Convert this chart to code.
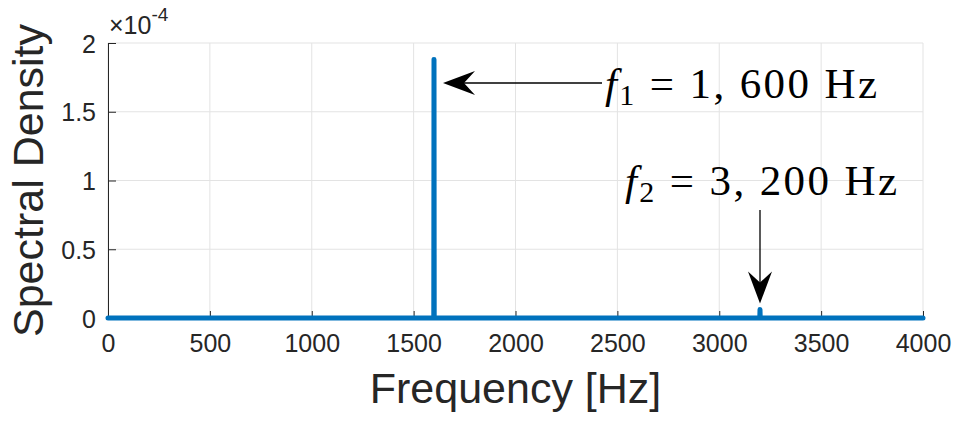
<!DOCTYPE html>
<html>
<head>
<meta charset="utf-8">
<script src="https://cdn.jsdelivr.net/npm/d3@7"></script>
<style>
  body { margin: 0; background: #fff; }
  svg { display: block; }
</style>
</head>
<body>
<svg></svg>
<script>
// spectrum samples (Hz) and spectral density
const frequency = [0, 1599, 1600, 1601, 3199, 3200, 3201, 4000];
const density = [0, 0, 1.88e-4, 0, 0, 0.062e-4, 0, 0];

const xTicks = [0, 500, 1000, 1500, 2000, 2500, 3000, 3500, 4000];
const yTicks = [0, 0.5e-4, 1e-4, 1.5e-4, 2e-4];
const yTickLabels = ["0", "0.5", "1", "1.5", "2"];

// annotations: [frequency, density] the arrow points at
const peak1 = [1600, 1.5e-4];
const peak2 = [3200, 0.062e-4];

const svgWidth = 955;
const svgHeight = 422;
const margin = { left: 108, right: 32, top: 43, bottom: 104 };

const svg = d3
  .select("svg")
  .attr("width", svgWidth)
  .attr("height", svgHeight);

const xScale = d3
  .scaleLinear()
  .domain([0, 4000])
  .range([margin.left, svgWidth - margin.right]);

const yScale = d3
  .scaleLinear()
  .domain([0, 2e-4])
  .range([svgHeight - margin.bottom, margin.top]);

const axisColor = "#262626";
const gridColor = "#e3e3e3";
const font = "'Liberation Sans', Arial, Helvetica, sans-serif";
const serif = "'Liberation Serif', 'Times New Roman', serif";

// grid
svg
  .append("g")
  .selectAll("line")
  .data(xTicks)
  .enter()
  .append("line")
  .attr("x1", d => xScale(d))
  .attr("x2", d => xScale(d))
  .attr("y1", yScale(0))
  .attr("y2", yScale(2e-4))
  .attr("stroke", gridColor);

svg
  .append("g")
  .selectAll("line")
  .data(yTicks)
  .enter()
  .append("line")
  .attr("x1", xScale(0))
  .attr("x2", xScale(4000))
  .attr("y1", d => yScale(d))
  .attr("y2", d => yScale(d))
  .attr("stroke", gridColor);

// axes
const x_axis = d3
  .axisBottom(xScale)
  .tickValues(xTicks)
  .tickSizeInner(-7)
  .tickSizeOuter(0)
  .tickPadding(16)
  .tickFormat(d3.format("d"));

const y_axis = d3
  .axisLeft(yScale)
  .tickValues(yTicks)
  .tickSizeInner(-8)
  .tickSizeOuter(0)
  .tickPadding(12)
  .tickFormat((d, i) => yTickLabels[i]);

const gx = svg
  .append("g")
  .attr("transform", "translate(0," + yScale(0) + ")")
  .call(x_axis);

const gy = svg
  .append("g")
  .attr("transform", "translate(" + xScale(0) + ",0)")
  .call(y_axis);

[gx, gy].forEach(g => {
  g.select(".domain").attr("stroke", axisColor);
  g.selectAll(".tick line").attr("stroke", axisColor);
  g.selectAll("text")
    .attr("fill", axisColor)
    .style("font-family", font)
    .style("font-size", "25px");
});
gy.selectAll("text").attr("dy", "0.36em");

// exponent
const expo = svg
  .append("text")
  .attr("x", xScale(0) + 1)
  .attr("y", 34)
  .attr("fill", axisColor)
  .style("font-family", font)
  .style("font-size", "25px");
expo.append("tspan").text("\u00d710");
expo.append("tspan").attr("dy", -13).style("font-size", "19px").text("-4");

// axis labels
svg
  .append("text")
  .attr("x", (xScale(0) + xScale(4000)) / 2)
  .attr("y", 403)
  .attr("text-anchor", "middle")
  .attr("fill", axisColor)
  .style("font-family", font)
  .style("font-size", "43px")
  .text("Frequency [Hz]");

svg
  .append("text")
  .attr("transform", "translate(43," + (yScale(1e-4)) + ") rotate(-90)")
  .attr("text-anchor", "middle")
  .attr("fill", axisColor)
  .style("font-family", font)
  .style("font-size", "43px")
  .text("Spectral Density");

// spectrum
const line = d3
  .line()
  .x((d, i) => xScale(frequency[i]))
  .y(d => yScale(d));

svg
  .append("path")
  .datum(density)
  .attr("d", line)
  .attr("fill", "none")
  .attr("stroke", "#0072BD")
  .attr("stroke-width", 5)
  .attr("stroke-linejoin", "round")
  .attr("stroke-linecap", "round");

// annotations
function label(x, y, sub, rest, width) {
  const t = svg
    .append("text")
    .attr("x", x)
    .attr("y", y)
    .attr("fill", "#000")
    .style("font-family", serif)
    .style("font-size", "43px")
    .attr("textLength", width)
    .attr("lengthAdjust", "spacing");
  t.append("tspan").style("font-style", "italic").text("f");
  t.append("tspan").attr("dy", 7).style("font-size", "30px").text(sub);
  t.append("tspan").attr("dy", -7).text(rest);
}

function arrowHead(tipX, tipY, dirX, dirY) {
  // dir points from tail towards tip
  const len = 32, notch = 21, half = 12;
  const px = -dirY, py = dirX;
  const pts = [
    [tipX, tipY],
    [tipX - dirX * len + px * half, tipY - dirY * len + py * half],
    [tipX - dirX * notch, tipY - dirY * notch],
    [tipX - dirX * len - px * half, tipY - dirY * len - py * half]
  ];
  svg.append("path").attr("d", "M" + pts.join("L") + "Z").attr("fill", "#000");
}

// f1 arrow, horizontal, pointing at the first peak
const a1y = 83;
const a1tip = xScale(peak1[0]) + 9;
svg
  .append("line")
  .attr("x1", 602)
  .attr("x2", a1tip + 20)
  .attr("y1", a1y)
  .attr("y2", a1y)
  .attr("stroke", "#000")
  .attr("stroke-width", 1.3);
arrowHead(a1tip, a1y, -1, 0);
label(605, 98, "1", " = 1, 600 Hz", 272);

// f2 arrow, vertical, pointing at the second peak
const a2x = xScale(peak2[0]);
const a2tip = yScale(peak2[1]) - 6;
svg
  .append("line")
  .attr("x1", a2x)
  .attr("x2", a2x)
  .attr("y1", 210)
  .attr("y2", a2tip - 20)
  .attr("stroke", "#000")
  .attr("stroke-width", 1.3);
arrowHead(a2x, a2tip, 0, 1);
label(625, 195, "2", " = 3, 200 Hz", 272);
</script>
</body>
</html>
